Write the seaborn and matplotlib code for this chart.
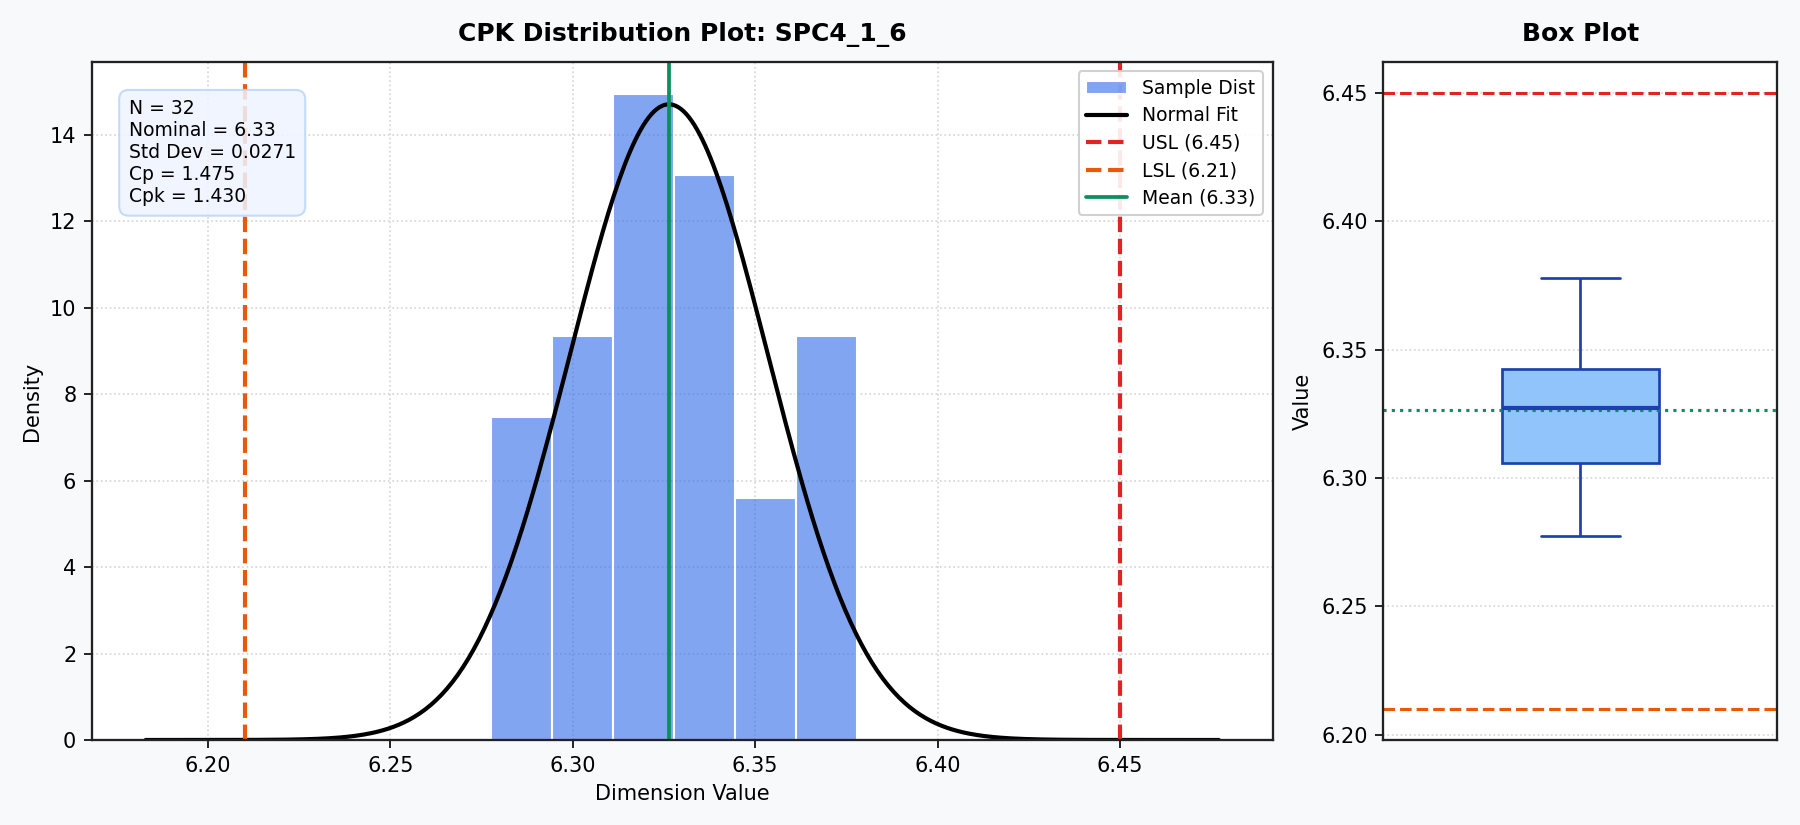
import numpy as np
import matplotlib
matplotlib.use("Agg")
import matplotlib.pyplot as plt
import seaborn as sns

# measurement data for SPC4_1_6 (32 samples)
values = [
    6.2775, 6.2800, 6.2830, 6.2870,
    6.2945, 6.2980, 6.3040, 6.3050, 6.3060,
    6.3115, 6.3140, 6.3180, 6.3215, 6.3251, 6.3260, 6.3270, 6.3272,
    6.3280, 6.3295, 6.3315, 6.3335, 6.3360, 6.3390, 6.3415,
    6.3448, 6.3490, 6.3550,
    6.3620, 6.3660, 6.3700, 6.3740, 6.3779,
]
part_name = "SPC4_1_6"
usl = 6.45
lsl = 6.21
nominal = 6.33
n_bins = 6

data = np.array(values)
n = len(data)
mean = data.mean()
std = data.std()
cp = (usl - lsl) / (6 * std)
cpk = min(usl - mean, mean - lsl) / (3 * std)

sns.set_style("white")
plt.rcParams['font.family'] = ['DejaVu Sans']
plt.rcParams['text.color'] = 'black'
plt.rcParams['axes.labelcolor'] = 'black'
plt.rcParams['xtick.color'] = 'black'
plt.rcParams['ytick.color'] = 'black'

fig = plt.figure(figsize=(12, 5.5), dpi=150, facecolor='#f8f9fb')
gs = fig.add_gridspec(1, 2, width_ratios=[3, 1])
fig.subplots_adjust(left=92/1800, right=1777/1800, top=1-62/825,
                    bottom=1-740/825, wspace=0.141)
ax = fig.add_subplot(gs[0])
ax_box = fig.add_subplot(gs[1])

# 分布图
sns.histplot(data, bins=n_bins, stat='density', color='#2f6ae8', alpha=0.6,
             edgecolor='white', linewidth=1, label='Sample Dist', ax=ax)
xs = np.linspace(lsl - std, usl + std, 400)
pdf = np.exp(-0.5 * ((xs - mean) / std) ** 2) / (std * np.sqrt(2 * np.pi))
sns.lineplot(x=xs, y=pdf, color='black', linewidth=2, label='Normal Fit', ax=ax)
ax.axvline(usl, color='#e02424', linestyle='--', linewidth=2, label=f'USL ({usl:.2f})')
ax.axvline(lsl, color='#e8590c', linestyle='--', linewidth=2, label=f'LSL ({lsl:.2f})')
ax.axvline(mean, color='#0a8f5e', linestyle='-', linewidth=1.8, label=f'Mean ({mean:.2f})')

ax.set_title(f'CPK Distribution Plot: {part_name}', fontsize=12, fontweight='bold', pad=10)
ax.set_xlabel('Dimension Value', fontsize=10)
ax.set_ylabel('Density', fontsize=10)
ax.grid(True, linestyle=':', color='#d4d4d4', linewidth=0.8)
ax.set_axisbelow(True)
ax.tick_params(labelsize=10, length=4, left=True, bottom=True)

# legend: histogram first
handles, labels = ax.get_legend_handles_labels()
order = [labels.index('Sample Dist')] + [i for i, l in enumerate(labels) if l != 'Sample Dist']
ax.legend([handles[i] for i in order], [labels[i] for i in order],
          loc='upper right', fontsize=9, framealpha=0.9, borderpad=0.4,
          handlelength=2.2, labelspacing=0.45)

stats_text = (f"N = {n}\nNominal = {nominal:.2f}\nStd Dev = {std:.4f}\n"
              f"Cp = {cp:.3f}\nCpk = {cpk:.3f}")
ax.text(0.031, 0.945, stats_text, transform=ax.transAxes, fontsize=9,
        va='top', ha='left', linespacing=1.2,
        bbox=dict(boxstyle='round,pad=0.5', facecolor='#eef4ff',
                  edgecolor='#bcd6f7', alpha=0.85))

# 箱线图
sns.boxplot(y=data, width=0.4, ax=ax_box, color='#90c4fa', linewidth=1.3,
            boxprops=dict(facecolor='#90c4fa', edgecolor='#1e40af'),
            whiskerprops=dict(color='#1e40af'),
            capprops=dict(color='#1e40af'),
            medianprops=dict(color='#1e40af', linewidth=2),
            fliersize=4)
ax_box.axhline(usl, color='#e02424', linestyle='--', linewidth=1.5)
ax_box.axhline(lsl, color='#e8590c', linestyle='--', linewidth=1.5)
ax_box.axhline(mean, color='#0a8f5e', linestyle=':', linewidth=1.5)
span = usl - lsl
ax_box.set_ylim(lsl - 0.05 * span, usl + 0.05 * span)
ax_box.set_xlim(-0.5, 0.5)
ax_box.set_title('Box Plot', fontsize=12, fontweight='bold', pad=10)
ax_box.set_ylabel('Value', fontsize=10)
ax_box.set_xticks([])
ax_box.grid(True, axis='y', linestyle=':', color='#d4d4d4', linewidth=0.8)
ax_box.set_axisbelow(True)
ax_box.tick_params(labelsize=10, length=4, left=True)

for a in (ax, ax_box):
    a.set_facecolor('white')
    for s in a.spines.values():
        s.set_color('#222222')
        s.set_linewidth(1.1)

fig.savefig('out.png', dpi=150, facecolor=fig.get_facecolor())
